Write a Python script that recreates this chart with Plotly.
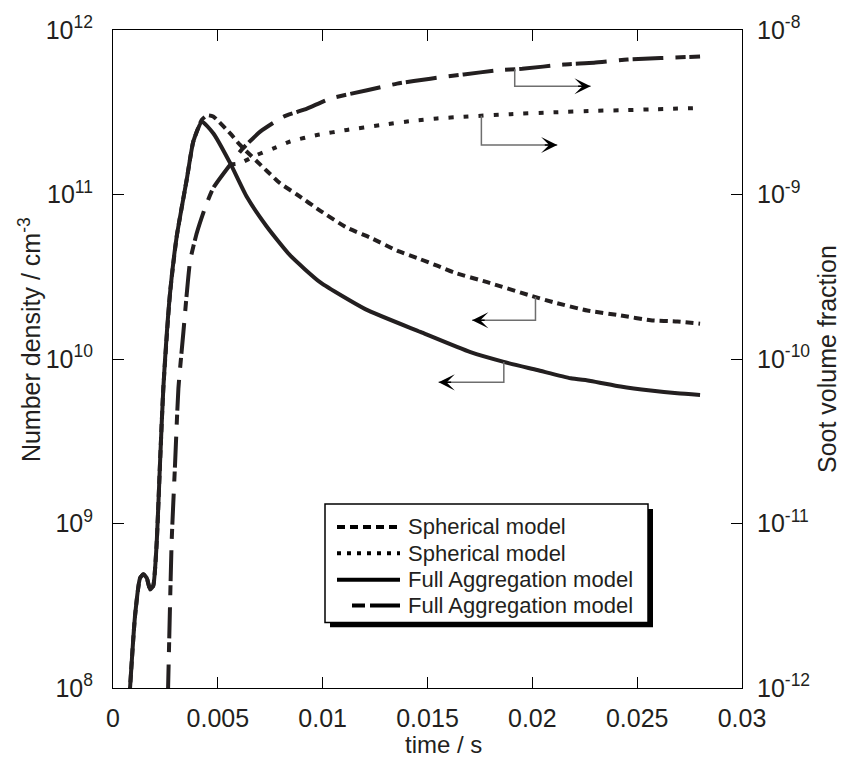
import numpy as np
import plotly.graph_objects as go

# ---- number density, full aggregation model (cm^-3) ----
t_agg_n = [0.00079, 0.00105, 0.00129, 0.00145, 0.00161, 0.00177, 0.00192, 0.00209,
           0.00224, 0.00240, 0.00272, 0.00304, 0.00352, 0.00383, 0.00424, 0.00479,
           0.00559, 0.00638, 0.00734, 0.00845, 0.00989, 0.01203, 0.01466, 0.01705,
           0.01864, 0.02023, 0.02183, 0.02278, 0.02421, 0.02564, 0.02692, 0.02800]
n_agg = [9.0e7, 2.74e8, 4.66e8, 4.91e8, 4.66e8, 3.97e8, 4.19e8, 7.9e8,
         2.29e9, 6.63e9, 2.51e10, 5.57e10, 1.24e11, 2.10e11, 2.77e11, 2.35e11,
         1.55e11, 9.68e10, 6.37e10, 4.26e10, 2.92e10, 2.01e10, 1.46e10, 1.10e10,
         9.6e9, 8.57e9, 7.63e9, 7.36e9, 6.8e9, 6.43e9, 6.19e9, 6.05e9]

# ---- number density, spherical model (cm^-3) ----
t_sph_n = [0.00079, 0.00105, 0.00129, 0.00145, 0.00161, 0.00177, 0.00192, 0.00209,
           0.00224, 0.00240, 0.00272, 0.00304, 0.00352, 0.00383, 0.00424, 0.00450,
           0.00478, 0.00559, 0.00606, 0.00734, 0.00797, 0.00877, 0.00989, 0.01116,
           0.01227, 0.01355, 0.01466, 0.01546, 0.01625, 0.01785, 0.01991, 0.02103,
           0.02262, 0.02421, 0.02564, 0.02692, 0.02800]
n_sph = [9.0e7, 2.74e8, 4.66e8, 4.91e8, 4.66e8, 3.97e8, 4.19e8, 7.9e8,
         2.29e9, 6.63e9, 2.51e10, 5.57e10, 1.24e11, 2.10e11, 2.85e11, 3.03e11,
         2.98e11, 2.35e11, 2.0e11, 1.39e11, 1.17e11, 1.0e11, 7.96e10, 6.28e10,
         5.47e10, 4.56e10, 4.04e10, 3.69e10, 3.36e10, 2.93e10, 2.43e10, 2.21e10,
         1.97e10, 1.84e10, 1.72e10, 1.69e10, 1.64e10]

# ---- soot volume fraction, full aggregation model ----
t_agg_fv = [0.00262, 0.00280, 0.00296, 0.00312, 0.00336, 0.00352, 0.00368, 0.00400,
            0.00439, 0.00479, 0.00559, 0.00615, 0.00702, 0.00813, 0.00925, 0.01036,
            0.01212, 0.01355, 0.01514, 0.01673, 0.01832, 0.01952, 0.02150, 0.02294,
            0.02453, 0.02612, 0.02800]
fv_agg = [9.0e-13, 7.92e-12, 2.30e-11, 6.64e-11, 1.47e-10, 2.51e-10, 3.97e-10, 5.86e-10,
          8.30e-10, 1.10e-9, 1.52e-9, 1.88e-9, 2.41e-9, 2.97e-9, 3.33e-9, 3.83e-9,
          4.30e-9, 4.72e-9, 5.06e-9, 5.37e-9, 5.68e-9, 5.81e-9, 6.17e-9, 6.32e-9,
          6.62e-9, 6.75e-9, 6.90e-9]

# ---- soot volume fraction, spherical model ----
t_sph_fv = [0.00559, 0.00606, 0.00686, 0.00766, 0.00845, 0.00973, 0.01116, 0.01275,
            0.01433, 0.01546, 0.01673, 0.01896, 0.02103, 0.02310, 0.02453, 0.02596,
            0.02800]
fv_sph = [1.52e-9, 1.55e-9, 1.74e-9, 1.91e-9, 2.10e-9, 2.30e-9, 2.47e-9, 2.64e-9,
          2.81e-9, 2.90e-9, 2.97e-9, 3.08e-9, 3.16e-9, 3.23e-9, 3.26e-9, 3.30e-9,
          3.36e-9]

# ---- axis ticks ----
x_ticks = [0, 0.005, 0.01, 0.015, 0.02, 0.025, 0.03]
x_ticktext = ["0", "0.005", "0.01", "0.015", "0.02", "0.025", "0.03"]
n_ticks = [1e8, 1e9, 1e10, 1e11, 1e12]
n_ticktext = ["10<sup>8</sup>", "10<sup>9</sup>", "10<sup>10</sup>", "10<sup>11</sup>", "10<sup>12</sup>"]
fv_ticks = [1e-12, 1e-11, 1e-10, 1e-9, 1e-8]
fv_ticktext = ["10<sup>-12</sup>", "10<sup>-11</sup>", "10<sup>-10</sup>", "10<sup>-9</sup>", "10<sup>-8</sup>"]

# ---- legend entries ----
legend_labels = ["Spherical model", "Spherical model", "Full Aggregation model", "Full Aggregation model"]
legend_dashes = ["8px,5px", "4px,6px", "solid", "13px,5px,30px,200px"]

# ---- pointer arrows: (series time, series values, stem time, lower level, end time, axis) ----
arrows = [
    (t_agg_fv, fv_agg, 0.01916, 4.55e-9, 0.02278, "y2"),
    (t_sph_fv, fv_sph, 0.01757, 2.00e-9, 0.02119, "y2"),
    (t_sph_n, n_sph, 0.02015, 1.72e10, 0.01713, "y"),
    (t_agg_n, n_agg, 0.01864, 7.21e9, 0.01553, "y"),
]

INK = "#231f20"
FONT = "Liberation Sans, Arial, Helvetica, sans-serif"
W, H = 843, 760
ML, MR, MT, MB = 113, 101, 26, 72
PW, PH = W - ML - MR, H - MT - MB


def px(xp):
    return (xp - ML) / PW


def py(yp):
    return (H - MB - yp) / PH


fig = go.Figure()

# curves
fig.add_trace(go.Scatter(x=t_sph_n, y=n_sph, mode="lines",
                         line=dict(color=INK, width=4, dash="8px,5px",
                                   shape="spline", smoothing=0.5)))
fig.add_trace(go.Scatter(x=t_agg_n, y=n_agg, mode="lines",
                         line=dict(color=INK, width=4, shape="spline", smoothing=0.5)))
fig.add_trace(go.Scatter(x=t_sph_fv, y=fv_sph, mode="lines", yaxis="y2",
                         line=dict(color=INK, width=4, dash="5px,10px",
                                   shape="spline", smoothing=0.5)))
fig.add_trace(go.Scatter(x=t_agg_fv, y=fv_agg, mode="lines", yaxis="y2",
                         line=dict(color=INK, width=4, dash="31px,12px,10px,4px",
                                   shape="spline", smoothing=0.5)))

annotations = []
# L-shaped pointers from each curve to its axis side
for ts, vs, t0, low, t1, ax_name in arrows:
    start = 10 ** np.interp(t0, ts, np.log10(vs))
    fig.add_trace(go.Scatter(x=[t0, t0, t1], y=[start, low, low], mode="lines",
                             yaxis=ax_name, line=dict(color="#6e6e6e", width=1.5)))
    direction = 1 if t1 > t0 else -1
    annotations.append(dict(x=t1, y=float(np.log10(low)), xref="x", yref=ax_name,
                            ax=-14 * direction, ay=0, text="", showarrow=True,
                            arrowhead=3, arrowsize=1.8, arrowwidth=1.5,
                            arrowcolor="black", standoff=0))

# axis titles
annotations += [
    dict(x=px(443), y=py(759), xref="paper", yref="paper", text="time / s",
         showarrow=False, font=dict(size=24, color=INK, family=FONT),
         xanchor="center", yanchor="bottom", borderpad=0),
    dict(x=px(30), y=py(338), xref="paper", yref="paper",
         text="Number density / cm<sup>-3</sup>", textangle=-90,
         showarrow=False, font=dict(size=25, color=INK, family=FONT),
         xanchor="center", yanchor="middle"),
    dict(x=px(827), y=py(357), xref="paper", yref="paper",
         text="Soot volume fraction", textangle=-90,
         showarrow=False, font=dict(size=25, color=INK, family=FONT),
         xanchor="center", yanchor="middle"),
]

# legend box with drop shadow
shapes = [
    dict(type="rect", xref="paper", yref="paper", x0=px(330), x1=px(653),
         y0=py(627), y1=py(508), fillcolor="black", line=dict(width=0), layer="above"),
    dict(type="rect", xref="paper", yref="paper", x0=px(325), x1=px(648),
         y0=py(622), y1=py(503), fillcolor="white",
         line=dict(color="black", width=1.5), layer="above"),
]
row_y = [526, 552.5, 579, 605]
for i, (lab, dash) in enumerate(zip(legend_labels, legend_dashes)):
    x_start = 352 if i == 3 else 337
    shapes.append(dict(type="line", xref="paper", yref="paper",
                       x0=px(x_start), x1=px(400), y0=py(row_y[i]), y1=py(row_y[i]),
                       line=dict(color="black", width=4, dash=dash), layer="above"))
    annotations.append(dict(x=px(406), y=py(row_y[i]), xref="paper", yref="paper",
                            text=lab, showarrow=False, xanchor="left", yanchor="middle",
                            font=dict(size=22, color=INK, family=FONT)))

axis_common = dict(showgrid=False, zeroline=False, ticks="inside", ticklen=11,
                   tickwidth=1, tickcolor="black",
                   tickfont=dict(size=25, color=INK, family=FONT))

fig.update_layout(
    width=W, height=H,
    margin=dict(l=ML, r=MR, t=MT, b=MB),
    plot_bgcolor="white", paper_bgcolor="white",
    showlegend=False,
    xaxis=dict(range=[0, 0.03], tickvals=x_ticks, ticktext=x_ticktext,
               showline=True, linecolor="black", linewidth=1, mirror="ticks",
               ticklabelstandoff=8, **axis_common),
    yaxis=dict(type="log", range=[8, 12], tickvals=n_ticks, ticktext=n_ticktext,
               showline=True, linecolor="black", linewidth=1, mirror="ticks",
               ticklabelstandoff=14, **axis_common),
    yaxis2=dict(type="log", range=[-12, -8], tickvals=fv_ticks, ticktext=fv_ticktext,
                overlaying="y", side="right", showline=False,
                ticklabelstandoff=14, **axis_common),
    annotations=annotations,
    shapes=shapes,
)

fig.write_html("out.html")
